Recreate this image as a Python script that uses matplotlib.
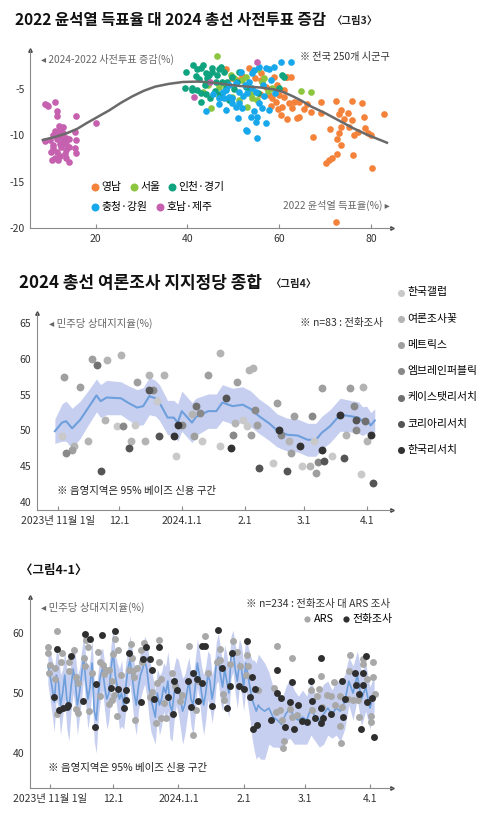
import numpy as np
import matplotlib
matplotlib.use('Agg')
import matplotlib.pyplot as plt

plt.rcParams['font.family'] = ['Noto Sans CJK KR', 'DejaVu Sans']
plt.rcParams['axes.unicode_minus'] = False

# ---------------- 그림3 data: 2022 윤석열 득표율 (x) vs 사전투표 증감 (y) ----------------
yeongnam_x = [48.5, 49.8, 53.5, 56.1, 56.1, 57.2, 58.5, 59.3, 57.8, 60.0, 58.9, 61.7, 61.1, 60.7, 60.4,
              62.8, 63.9, 61.5, 62.6, 59.6, 61.1, 62.2, 63.3, 64.3, 66.1, 67.0, 69.1, 69.1, 64.3, 72.4,
              75.9, 78.0, 73.5, 73.0, 75.0, 75.9, 78.5, 82.8, 71.1, 73.5, 73.0, 75.2, 76.3, 78.7, 79.3,
              80.0, 72.6, 73.5, 67.4, 72.6, 71.5, 70.9, 70.2, 76.1, 80.2, 72.4, 52.0, 57.5, 58.2, 59.8,
              55.8, 50.8, 54.8, 61.8, 65.5, 74.2, 77.2]
yeongnam_y = [-2.9, -3.8, -2.7, -3.3, -4.0, -4.8, -6.0, -6.4, -5.7, -5.7, -3.7, -3.7, -5.1, -7.0, -7.8,
              -7.1, -8.1, -3.7, -3.7, -4.6, -5.9, -6.5, -6.4, -6.4, -6.6, -7.5, -6.4, -7.6, -8.0, -6.3,
              -6.3, -6.5, -7.3, -7.7, -7.6, -8.4, -8.0, -7.7, -9.3, -9.1, -9.7, -9.1, -10.0, -9.2, -9.7,
              -10.0, -10.4, -11.0, -10.2, -12.0, -12.4, -12.7, -13.0, -12.1, -13.5, -19.3, -3.6, -5.0, -6.8, -7.2,
              -5.6, -4.0, -3.8, -8.2, -7.2, -8.2, -9.6]

seoul_x = [46.5, 43.3, 45.2, 49.8, 51.3, 53.0, 64.8, 67.0, 49.6, 54.0, 55.2, 56.7, 52.8, 47.0, 48.2,
           51.8, 53.8, 56.2, 57.5, 44.5, 50.2, 58.5, 46.8, 55.5]
seoul_y = [-1.5, -5.3, -7.1, -5.9, -6.2, -6.9, -5.2, -5.3, -3.5, -6.0, -6.2, -3.8, -3.7, -4.8, -4.5,
           -4.0, -5.5, -4.3, -5.2, -4.6, -3.8, -4.9, -5.8, -2.8]

incheon_x = [39.8, 39.4, 41.3, 42.2, 43.5, 41.0, 43.0, 43.0, 44.0, 44.3, 45.4, 46.5, 46.3, 47.4, 47.6,
             48.5, 49.1, 49.8, 51.3, 52.8, 43.0, 45.4, 47.0, 44.3, 48.7, 50.9, 40.9, 42.2, 44.1, 53.5,
             60.0, 61.1, 60.7, 44.8, 42.5, 46.0, 41.8, 43.8, 48.0, 50.2, 45.0, 47.2, 55.5]
incheon_y = [-3.2, -4.9, -2.4, -2.9, -2.4, -5.1, -5.4, -6.4, -3.3, -3.8, -3.2, -3.5, -4.3, -2.6, -4.2,
             -4.9, -6.2, -3.7, -3.2, -4.8, -2.7, -2.7, -2.9, -4.2, -4.2, -4.3, -4.9, -5.1, -5.6, -4.9,
             -4.9, -3.7, -3.5, -3.5, -3.9, -5.2, -3.6, -4.6, -3.2, -5.0, -6.0, -5.6, -5.4]

chungcheong_x = [44.1, 47.0, 48.5, 49.8, 51.3, 52.8, 52.0, 49.1, 53.0, 60.4, 62.6, 51.7, 54.6, 55.7, 57.2,
                 57.8, 53.5, 48.5, 49.1, 48.0, 49.8, 51.3, 54.1, 55.0, 55.7, 56.3, 57.8, 55.2, 53.9, 57.2,
                 53.0, 54.1, 55.2, 55.0, 52.5, 50.5, 56.5, 58.2, 45.5, 46.8, 50.5, 59.2, 56.8, 52.2, 58.8,
                 47.8, 51.0, 54.5]
chungcheong_y = [-7.4, -6.0, -7.3, -6.0, -6.5, -9.4, -7.1, -4.6, -5.4, -2.1, -2.1, -3.2, -3.0, -2.6, -2.7,
                 -2.9, -4.2, -5.1, -5.9, -6.0, -6.5, -5.3, -4.9, -5.3, -6.5, -7.1, -7.3, -8.0, -8.0, -8.7,
                 -9.5, -3.3, -10.3, -8.6, -4.6, -4.4, -4.6, -4.0, -5.5, -6.6, -7.0, -5.4, -5.8, -5.8, -2.6,
                 -5.3, -8.1, -7.4]

honam_x = [8.9, 9.6, 11.1, 11.5, 11.6, 15.8, 20.1, 8.9, 10.0, 10.7, 11.1, 12.0, 12.5, 12.9, 13.5,
           11.5, 12.2, 12.9, 13.6, 14.3, 10.7, 11.5, 12.5, 13.6, 14.3, 10.4, 11.1, 11.8, 12.2, 13.3,
           13.6, 15.8, 14.3, 10.7, 10.2, 12.5, 11.8, 12.9, 15.8, 15.4, 15.4, 9.3, 41.5, 45.0, 55.2]
honam_y = [-6.6, -6.8, -6.4, -7.4, -7.9, -7.9, -8.7, -10.6, -10.5, -10.0, -9.5, -9.0, -9.4, -9.8, -10.3,
           -10.4, -10.9, -10.7, -10.9, -10.4, -11.4, -11.8, -11.3, -11.6, -11.3, -12.7, -12.5, -12.7, -12.2, -12.0,
           -12.4, -11.9, -12.9, -11.0, -11.8, -10.2, -9.6, -9.1, -10.5, -9.6, -11.4, -6.7, -5.9, -4.2, -2.1]

trend_x = [8.5, 11, 13.6, 16, 18, 20.5, 23, 25.5, 28, 30.5, 33, 36, 39, 42.5, 46, 49.8, 53, 56,
           59, 61, 63, 65, 67, 70, 73, 76, 79, 82, 83.5]
trend_y = [-10.5, -10.2, -9.8, -9.3, -8.7, -8.0, -7.3, -6.5, -5.8, -5.2, -4.75, -4.45, -4.25, -4.2,
           -4.35, -4.6, -4.75, -4.85, -5.05, -5.35, -5.8, -6.3, -6.9, -7.6, -8.4, -9.2, -9.9, -10.5, -10.8]

regions = ['영남', '서울', '인천·경기', '충청·강원', '호남·제주']
region_colors = ['#f5823a', '#8cc63f', '#0fa37f', '#17a8ec', '#c561ae']

# ---------------- 그림4 data: days since 2023-11-01, 민주당 상대지지율 ----------------
poll_days = [2, 3, 4, 7, 8, 11, 15, 17, 19, 21, 23, 24, 29, 31, 32, 35, 36, 38, 39, 43,
             45, 45, 47, 49, 50, 52, 57, 59, 58, 61, 66, 67, 68, 70, 71, 74, 80, 80, 83, 85,
             86, 87, 88, 91, 94, 93, 96, 97, 98, 95, 99, 106, 108, 109, 110, 113, 114, 115, 116, 119,
             120, 124, 125, 126, 127, 128, 130, 130, 131, 135, 139, 141, 142, 144, 146, 147, 147, 149, 150, 151,
             152, 154, 155]
poll_vals = [49.2, 57.5, 46.9, 47.3, 47.9, 56.1, 48.5, 60.0, 59.1, 44.3, 51.4, 59.8, 50.6, 60.5, 50.6, 47.6, 48.5, 50.7, 56.7, 48.5,
             57.8, 55.7, 55.7, 54.1, 49.2, 57.7, 49.2, 50.7, 46.5, 50.7, 52.3, 49.2, 53.4, 52.5, 48.5, 57.8, 47.8, 60.8, 54.5, 47.6,
             49.3, 51.1, 56.7, 51.5, 58.5, 50.6, 58.7, 52.8, 50.7, 49.3, 44.8, 45.5, 53.9, 50.0, 49.3, 44.3, 48.5, 46.8, 52.0, 47.9,
             45.1, 45.0, 52.0, 48.5, 44.0, 45.6, 55.9, 47.3, 45.8, 46.4, 52.1, 46.1, 49.3, 56.0, 53.4, 51.4, 50.1, 43.9, 56.1, 51.3,
             48.5, 49.3, 42.6]
poll_house = [0, 2, 3, 2, 1, 2, 1, 2, 4, 5, 1, 1, 0, 1, 3, 5, 1, 0, 2, 1,
              1, 5, 3, 0, 5, 1, 6, 6, 0, 3, 1, 2, 4, 3, 0, 2, 0, 1, 5, 6,
              3, 1, 2, 0, 1, 0, 1, 3, 2, 2, 5, 0, 2, 6, 3, 5, 1, 2, 2, 6,
              0, 1, 3, 0, 2, 3, 2, 6, 5, 0, 6, 5, 1, 2, 3, 5, 3, 0, 1, 4,
              1, 6, 5]
houses = ['한국갤럽', '여론조사꽃', '메트릭스', '엠브레인퍼블릭', '케이스탯리서치', '코리아리서치', '한국리서치']
house_colors = ['#c9c9c9', '#b4b4b4', '#9f9f9f', '#898989', '#707070', '#555555', '#333333']

p2_days = [-1.5, 2, 4, 7, 11, 15, 19, 21, 24, 31, 35, 39, 42, 45, 48, 50, 54, 57, 59, 61,
           66, 68, 74, 78, 81, 86, 91, 95, 99, 104, 108, 113, 118, 123, 127, 130, 134, 139, 144, 148,
           150, 152, 154, 156]
p2_mean = [49.9, 51.1, 51.3, 50.3, 51.5, 53.2, 54.9, 54.1, 54.6, 54.5, 53.8, 53.2, 53.4, 54.8, 54.5, 53.9, 51.8, 51.8, 51.1, 52.7,
           51.1, 51.9, 52.7, 52.7, 53.9, 53.4, 53.6, 53.0, 52.0, 51.0, 50.0, 49.4, 49.3, 48.7, 48.7, 49.7, 50.6, 52.2, 52.0, 51.8,
           51.3, 51.5, 50.7, 51.4]
p2_hw = [1.7, 2.6, 2.8, 2.8, 2.6, 2.4, 2.3, 2.3, 2.4, 2.3, 2.4, 2.5, 2.6, 2.6, 2.5, 2.5, 2.4, 2.4, 2.6, 2.8,
         2.8, 2.6, 2.4, 2.4, 2.5, 2.5, 2.5, 2.5, 2.4, 2.4, 2.3, 2.3, 2.3, 2.3, 2.3, 2.3, 2.3, 2.3, 2.2, 2.2,
         2.0, 1.9, 1.8, 1.6]

# ---------------- 그림4-1 data: ARS vs 전화조사 ----------------
ars_days = [-1.1, -0.8, 0, -0.5, 2.4, 2.4, 3.5, 3.2, 5.2, 5.6, 9.2, 9.2, 11.5, 12.2, 12.2, 13.5, 13.2, 16.3, 16.6, 17,
            17.9, 18.5, 19.8, 22.9, 23.8, 25.3, 25.8, 26.5, 23.8, 28, 29.3, 30.9, 30.1, 32.2, 29.6, 30.6, 28, 31.8, 33.7, 37.5,
            38.3, 39.6, 40, 38.8, 40.4, 41.2, 43.2, 44.8, 43.5, 47.5, 48.3, 51.8, 51.8, 50.7, 52.7, 50.3, 52.7, 54.9, 54.3, 57.8,
            59.4, 61.8, 62.8, 66, 69.2, 68.1, 70.4, 75.1, 73.6, 80.8, 80.8, 79.2, 82.3, 82.8, 87.1, 85.5, 88.7, 90.3, 93.4, 93.9,
            93, 99, 107.7, 106.6, 107.2, 109.3, 110.4, 111.4, 110.9, 114.8, 114, 115.1, 117.2, 124, 124.4, 126.7, 128, 128.6, 129.1, 131.5,
            133.5, 135, 135.4, 137.6, 138.2, 138.9, 137.8, 141.7, 142.5, 142, 144.1, 146.4, 146.9, 148.9, 148.9, 150.5, 152.5, 152.3, 153.6, 153.6,
            154.4]
ars_vals = [57.6, 56.7, 54.7, 53.4, 52.4, 54.1, 60.3, 46.6, 55.1, 56.6, 55.1, 53.7, 57.1, 52.7, 47.4, 46.7, 51.7, 55.8, 54.5, 58.8,
            57.7, 47.0, 53.4, 56.9, 55.1, 54.7, 53.2, 53.8, 49.5, 53.9, 52.0, 59.0, 56.5, 57.2, 48.9, 49.7, 48.2, 46.2, 53.0, 53.8,
            58.2, 53.6, 52.7, 55.8, 45.6, 54.2, 57.2, 58.4, 55.1, 49.4, 50.2, 58.8, 55.1, 51.6, 52.4, 45.0, 45.8, 45.8, 48.4, 53.4,
            51.2, 48.7, 49.7, 57.8, 47.2, 43.0, 52.0, 53.3, 59.5, 57.4, 55.5, 55.1, 49.9, 48.9, 58.6, 54.9, 56.9, 54.5, 56.3, 54.5,
            53.0, 50.5, 57.8, 50.8, 46.9, 47.2, 45.5, 42.0, 40.9, 55.8, 47.3, 46.1, 46.3, 50.5, 47.2, 49.5, 50.7, 52.8, 47.7, 49.7,
            49.5, 51.9, 48.0, 44.5, 41.7, 47.7, 49.5, 49.1, 56.3, 53.6, 48.8, 48.9, 46.1, 55.6, 54.8, 52.4, 45.2, 46.2, 55.2, 52.7,
            49.9]
phone_days = [3.2, 2, 4.3, 6.3, 7.9, 8.7, 10, 16.6, 19, 24.6, 30.9, 15.5, 21.7, 21.4, 29, 32.2, 35.3, 36.3, 36, 37.7,
              43.2, 44.3, 45.6, 47.5, 48.3, 49.4, 51.8, 55.9, 58.6, 59, 60.2, 65.4, 68.1, 70, 72.1, 67.2, 70.4, 72.1, 80, 73.6,
              86.3, 81.8, 85.5, 83.9, 77.1, 89.8, 92.3, 93.7, 95.8, 95, 97.4, 98.2, 96.6, 105, 107.7, 107.7, 109.8, 111.6, 114, 115.1,
              116, 117.9, 119.9, 122, 124, 124.7, 126, 128.6, 128.7, 128.7, 129.8, 133.5, 138.9, 139, 140.1, 144.9, 145.2, 146.9, 147.6, 148.7,
              148.9, 150.1, 150.5, 152.8, 154]
phone_vals = [57.4, 49.3, 47.2, 47.5, 47.7, 48.0, 56.2, 59.8, 59.0, 59.6, 60.3, 48.7, 51.5, 44.4, 50.8, 50.6, 47.6, 48.8, 50.5, 56.6,
              48.6, 55.7, 57.7, 55.7, 53.8, 49.1, 57.6, 49.3, 46.5, 52.0, 50.5, 52.0, 53.3, 52.3, 57.8, 47.7, 48.7, 51.7, 60.5, 57.8,
              56.6, 54.2, 51.2, 47.6, 47.9, 51.2, 50.6, 58.6, 52.7, 49.3, 50.7, 44.7, 44.1, 45.6, 53.8, 50.1, 49.2, 44.3, 48.6, 51.8,
              44.1, 48.0, 45.4, 45.2, 52.0, 48.7, 45.8, 55.8, 47.5, 45.0, 45.8, 46.5, 52.0, 46.0, 49.1, 53.4, 51.3, 49.9, 44.1, 53.4,
              51.3, 56.2, 48.6, 49.2, 42.7]

p3_days = list(range(-1, 101)) + list(range(102, 156, 2))
p3_mean = [54.5, 53, 51, 48.5, 53, 52, 48, 50, 53, 49,
           47.5, 51, 54, 52, 48, 50, 53, 56, 52, 49,
           51, 55, 47, 45.5, 50, 53, 54, 51, 49, 50,
           54, 57, 53, 51, 49, 50, 48, 51, 54, 55.5,
           53, 50, 48, 51, 53, 54, 55.5, 54, 51, 49,
           47.5, 46, 50, 48, 49, 51, 50, 52, 48, 47,
           50, 52, 51, 49, 47, 48, 50, 52, 49, 48,
           51, 55, 53, 50, 48, 50, 53, 52, 49, 51,
           55, 56, 53, 51, 54, 52, 50, 56, 57, 54,
           52, 55, 54, 51, 55, 53, 51, 49, 48, 47,
           48, 47.5,
           47, 47.5, 46, 45.5, 44.8, 46.5, 47.5, 46, 45.5, 46,
           45.5, 47.5, 46, 45.5, 46.5, 47.5, 46.5, 47.5, 47, 48.5,
           52, 50, 53, 49, 51, 47.5, 50]
p3_hw = [3, 4, 4.5, 5, 4, 4.5, 5, 4, 4, 5,
         5.5, 4, 4, 4.5, 5, 4, 4, 3.5, 4, 5,
         4.5, 4, 5, 5.5, 4, 4, 3.5, 4, 5, 4.5,
         4, 4, 3.5, 4, 5, 5.5, 4, 4, 3.5, 4,
         4.5, 5, 5, 4, 4, 3.5, 4, 4.5, 5, 5.5,
         5, 4.5, 4, 5, 4.5, 4, 4.5, 5, 5.5, 5,
         4.5, 4, 4.5, 5, 5.5, 5, 4.5, 4, 4.5, 5,
         4.5, 4, 4, 4.5, 5, 4.5, 4, 4.5, 4, 3.5,
         3.5, 4, 4.5, 4, 4, 4.5, 4, 3.5, 3.5, 4,
         4.5, 4, 4, 4, 4.5, 5, 5.5, 6.5, 7.5, 8,
         8.5, 8.5,
         8, 6, 5, 4.5, 4, 4.5, 5, 4.5, 4, 4.5,
         4, 4.5, 4, 4.5, 5, 4.5, 4, 4.5, 5, 4.5,
         4, 4.5, 4, 4.5, 4, 3.5, 3]

date_ticks = [0, 30, 61, 92, 121, 152]
date_labels = ['2023년 11월 1일', '12.1', '2024.1.1', '2.1', '3.1', '4.1']

GRAY = '#666666'
SPINE = '#8a8a8a'
BLUE = '#6d9fdc'
BAND = '#c7cff0'


def fx(px):
    return px / 500


def fy(py):
    return 1 - py / 827


def style_axes(ax):
    for s in ['top', 'right']:
        ax.spines[s].set_visible(False)
    for s in ['left', 'bottom']:
        ax.spines[s].set_color(SPINE)
        ax.spines[s].set_linewidth(0.8)
    ax.tick_params(axis='x', direction='in', length=3, color=SPINE, labelsize=7.5,
                   labelcolor='#333333', pad=4)
    ax.tick_params(axis='y', length=0, labelsize=7.5, labelcolor='#333333', pad=4)
    ax.plot(1, 0, '>', color='#444444', ms=2.5, transform=ax.transAxes, clip_on=False)
    ax.plot(0, 1, '^', color='#444444', ms=2.5, transform=ax.transAxes, clip_on=False)


fig = plt.figure(figsize=(5, 8.27), dpi=100)

# ======================= 그림3 =======================
fig.text(fx(15), fy(20), '2022 윤석열 득표율 대 2024 총선 사전투표 증감', fontsize=11.2,
         weight='bold', va='center', color='#111111')
fig.text(fx(331), fy(21), '〈그림3〉', fontsize=7.5, weight='bold', va='center', color='#222222')

ax1 = fig.add_axes([fx(30), fy(228), fx(392) - fx(30), fy(50) - fy(228)])
style_axes(ax1)
xs = [yeongnam_x, seoul_x, incheon_x, chungcheong_x, honam_x]
ys = [yeongnam_y, seoul_y, incheon_y, chungcheong_y, honam_y]
handles = []
for name, col, x, y in zip(regions, region_colors, xs, ys):
    h = ax1.scatter(x, y, s=23, color=col, lw=0, label=name, zorder=2)
    handles.append(h)
ax1.plot(trend_x, trend_y, color='#6a6a6a', lw=1.8, zorder=3)
ax1.set_xlim(5.7, 84.6)
ax1.set_ylim(-20, -0.8)
ax1.set_xticks([20, 40, 60, 80])
ax1.set_yticks([-5, -10, -15, -20])

ax1.text(0.03, 0.98, '◂ 2024-2022 사전투표 증감(%)', transform=ax1.transAxes, fontsize=7.3,
         color=GRAY, va='top')
ax1.text(0.995, 0.99, '※ 전국 250개 시군구', transform=ax1.transAxes, fontsize=7.3,
         color='#333333', va='top', ha='right')
ax1.text(0.995, 0.125, '2022 윤석열 득표율(%) ▸', transform=ax1.transAxes, fontsize=7.3,
         color=GRAY, va='center', ha='right')

leg_kw = dict(frameon=False, fontsize=7.8, handletextpad=0.1, columnspacing=0.6,
              borderpad=0, borderaxespad=0, handlelength=1.0, markerscale=1.2)
leg1 = ax1.legend(handles[:3], regions[:3], loc='center left', bbox_to_anchor=(0.165, 0.232),
                  ncol=3, **leg_kw)
ax1.add_artist(leg1)
ax1.legend(handles[3:], regions[3:], loc='center left', bbox_to_anchor=(0.165, 0.118),
           ncol=2, **leg_kw)

# ======================= 그림4 =======================
fig.text(fx(19), fy(283), '2024 총선 여론조사 지지정당 종합', fontsize=12.2, weight='bold',
         va='center', color='#111111')
fig.text(fx(270), fy(284), '〈그림4〉', fontsize=7.5, weight='bold', va='center', color='#222222')

ax2 = fig.add_axes([fx(37), fy(510), fx(392) - fx(37), fy(313) - fy(510)])
style_axes(ax2)
lo = [m - h for m, h in zip(p2_mean, p2_hw)]
hi = [m + h for m, h in zip(p2_mean, p2_hw)]
ax2.fill_between(p2_days, lo, hi, color=BAND, lw=0, zorder=1)
ax2.plot(p2_days, p2_mean, color=BLUE, lw=1.5, zorder=2)
poll_days_a = np.array(poll_days)
poll_vals_a = np.array(poll_vals)
poll_house_a = np.array(poll_house)
for i, (name, col) in enumerate(zip(houses, house_colors)):
    m = poll_house_a == i
    ax2.scatter(poll_days_a[m], poll_vals_a[m], s=32, color=col, lw=0, label=name, zorder=3)
ax2.set_xlim(-10.3, 164.5)
ax2.set_ylim(38.9, 66.4)
ax2.set_yticks([40, 45, 50, 55, 60, 65])
ax2.set_xticks(date_ticks)
ax2.set_xticklabels(date_labels)
ax2.text(0.035, 0.975, '◂ 민주당 상대지지율(%)', transform=ax2.transAxes, fontsize=7.5,
         color=GRAY, va='top')
ax2.text(0.975, 0.975, '※ n=83 : 전화조사', transform=ax2.transAxes, fontsize=7.5,
         color='#333333', va='top', ha='right')
ax2.text(0.055, 0.095, '※ 음영지역은 95% 베이즈 신용 구간', transform=ax2.transAxes, fontsize=7.5,
         color='#222222', va='center')
ax2.legend(loc='upper left', bbox_to_anchor=(1.01, 1.13), frameon=False, fontsize=7.8,
           handletextpad=0.1, labelspacing=1.5, borderpad=0, borderaxespad=0,
           handlelength=1.0, markerscale=0.9)

# ======================= 그림4-1 =======================
fig.text(fx(20), fy(570), '〈그림4-1〉', fontsize=9, weight='bold', va='center', color='#111111')

ax3 = fig.add_axes([fx(30), fy(788), fx(392) - fx(30), fy(597) - fy(788)])
style_axes(ax3)
lo3 = [m - h for m, h in zip(p3_mean, p3_hw)]
hi3 = [m + h for m, h in zip(p3_mean, p3_hw)]
ax3.fill_between(p3_days, lo3, hi3, color=BAND, lw=0, zorder=1)
ax3.plot(p3_days, p3_mean, color=BLUE, lw=1.2, zorder=2)
h_ars = ax3.scatter(ars_days, ars_vals, s=25, color='#a8a8a8', lw=0, label='ARS', zorder=3)
h_tel = ax3.scatter(phone_days, phone_vals, s=25, color='#2f2f2f', lw=0, label='전화조사', zorder=4)
ax3.set_xlim(-9.5, 162.5)
ax3.set_ylim(34.2, 66)
ax3.set_yticks([40, 50, 60])
ax3.set_xticks(date_ticks)
ax3.set_xticklabels(date_labels)
ax3.text(0.03, 0.975, '◂ 민주당 상대지지율(%)', transform=ax3.transAxes, fontsize=7.5,
         color=GRAY, va='top')
ax3.text(0.995, 0.99, '※ n=234 : 전화조사 대 ARS 조사', transform=ax3.transAxes, fontsize=7.5,
         color='#333333', va='top', ha='right')
ax3.legend(handles=[h_ars, h_tel], loc='center right', bbox_to_anchor=(1.0, 0.885), ncol=2,
           frameon=False, fontsize=7.8, handletextpad=0.1, columnspacing=0.6, borderpad=0,
           borderaxespad=0, handlelength=1.0, markerscale=0.9)
ax3.text(0.05, 0.105, '※ 음영지역은 95% 베이즈 신용 구간', transform=ax3.transAxes, fontsize=7.5,
         color='#222222', va='center')

fig.savefig('out.png', dpi=100)
